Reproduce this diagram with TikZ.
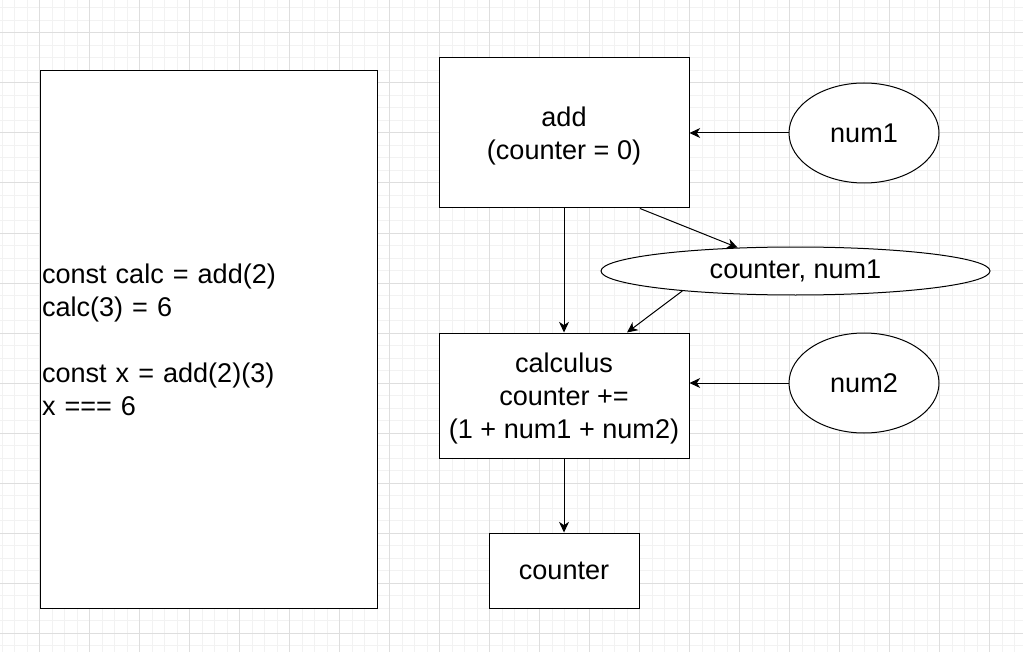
\documentclass[tikz,border=0pt]{standalone}
\usepackage{fontspec}
\setmainfont{Liberation Sans}
\usetikzlibrary{arrows.meta,calc}

\tikzset{every picture/.style={line width=0.75pt}}
\tikzset{
  gridminor/.style={draw={rgb,255:red,242;green,242;blue,242},line width=0.75pt},
  gridmajor/.style={draw={rgb,255:red,222;green,222;blue,222},line width=0.75pt},
  boxnode/.style={draw,fill=white,inner sep=0pt,align=center,text depth=0pt,font=\fontsize{20.3}{24.75}\selectfont},
  ellnode/.style={draw,fill=white,ellipse,inner sep=0pt,align=center,font=\fontsize{20.3}{24.75}\selectfont},
  link/.style={-{Stealth[length=8pt,width=7.5pt,inset=2.5pt]}}
}
\usetikzlibrary{shapes.geometric}

\begin{document}
\begin{tikzpicture}[x=0.75pt,y=0.75pt,yscale=-1,xscale=1]
    \useasboundingbox (0,0) rectangle (1023,652);
    \fill[white] (0,0) rectangle (1023,652);
    
    %Grid
    \foreach \gx in {2,14.5,...,1023} \draw[gridminor] (\gx,0) -- (\gx,652);
    \foreach \gy in {8,20.5,...,652} \draw[gridminor] (0,\gy) -- (1023,\gy);
    \foreach \gx in {39.5,89.5,...,1023} \draw[gridmajor] (\gx,0) -- (\gx,652);
    \foreach \gy in {33,83,...,652} \draw[gridmajor] (0,\gy) -- (1023,\gy);
    
    %Shape: Note
    \node (note) [draw, fill=white, inner sep=0pt, minimum width=252.75pt, minimum height=402.75pt, text width=249.75pt, align=left, font=\fontsize{20.3}{24.75}\selectfont] at (208.5,339.5) {const calc = add(2)\\calc(3) = 6\\[24.75pt]const x = add(2)(3)\\x === 6};
    
    %Shape: Rectangles
    \node (add) [boxnode, minimum width=187.5pt, minimum height=112.5pt] at (564,133) {add\\(counter = 0)};
    \node (calc) [boxnode, minimum width=187.5pt, minimum height=93.75pt] at (564,395.5) {calculus\\counter +=\\(1 + num1 + num2)};
    \node (counter) [boxnode, minimum width=112.5pt, minimum height=56.25pt] at (564,570.5) {counter};
    
    %Shape: Ellipses
    \node (num1) [ellnode, minimum width=112.5pt, minimum height=75pt] at (864,133) {num1};
    \node (num2) [ellnode, minimum width=112.5pt, minimum height=75pt] at (864,383) {num2};
    \node (cn) [ellnode, minimum width=291.75pt, minimum height=36pt] at (795.5,271) {counter, num1};
    
    %Straight Lines
    \draw[link] (num1.west) -- (add.east);
    \draw[link] (num2.west) -- (calc.east |- num2.west);
    \draw[link] (add.south) -- (calc.north);
    \draw[link] (calc.south) -- (counter.north);
    \draw[link] ($(add.south)+(76,0)$) -- (cn.158);
    \draw[link] (cn.190) -- ($(calc.north)+(63,0)$);
    
\end{tikzpicture}
\end{document}
